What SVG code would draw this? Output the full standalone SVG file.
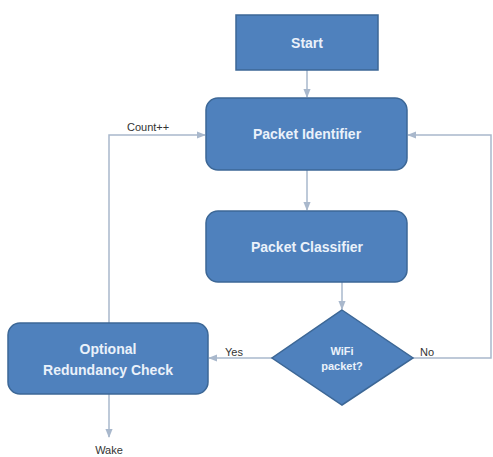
<svg xmlns="http://www.w3.org/2000/svg" width="493" height="457" viewBox="0 0 493 457">
<defs>
<style>
.box{fill:#4F81BD;stroke:#3C6796;stroke-width:1.5}
.lbl{font-family:"Liberation Sans",Arial,sans-serif;font-weight:bold;fill:#EAF1FA;text-anchor:middle}
.edge{fill:none;stroke:#A9B8CC;stroke-width:1.5}
.note{font-family:"Liberation Sans",Arial,sans-serif;font-size:11px;fill:#333}
</style>
<marker id="arr" viewBox="0 0 10 10" refX="9" refY="5" markerWidth="6" markerHeight="6" orient="auto-start-reverse">
<path d="M0,1 L10,5 L0,9 z" fill="#A9B8CC"/>
</marker>
</defs>
<rect width="493" height="457" fill="#FFFFFF"/>
<g id="connectors">
<line class="edge" x1="307" y1="70" x2="307" y2="97" marker-end="url(#arr)"/>
<line class="edge" x1="307" y1="170" x2="307" y2="210" marker-end="url(#arr)"/>
<line class="edge" x1="342" y1="282" x2="342" y2="309" marker-end="url(#arr)"/>
<line class="edge" x1="272" y1="358" x2="209" y2="358" marker-end="url(#arr)"/>
<polyline class="edge" points="413,358 491,358 491,135 408,135" marker-end="url(#arr)"/>
<polyline class="edge" points="109,323 109,135 205,135" marker-end="url(#arr)"/>
<line class="edge" x1="109" y1="394" x2="109" y2="437" marker-end="url(#arr)"/>
<text class="note" x="127" y="131">Count++</text>
<text class="note" x="225" y="356">Yes</text>
<text class="note" x="420" y="356">No</text>
<text class="note" x="109" y="454" text-anchor="middle">Wake</text>
</g>
<g id="start">
<rect class="box" x="236" y="15" width="142" height="55"/>
<text class="lbl" x="307" y="48" font-size="14">Start</text>
</g>
<g id="packet-identifier">
<rect class="box" x="206" y="98" width="201" height="72" rx="12"/>
<text class="lbl" x="307" y="139" font-size="14">Packet Identifier</text>
</g>
<g id="packet-classifier">
<rect class="box" x="206" y="211" width="201" height="71" rx="12"/>
<text class="lbl" x="307" y="252" font-size="14">Packet Classifier</text>
</g>
<g id="wifi-decision">
<polygon class="box" points="342,310 413,358 342,405 272,358"/>
<text class="lbl" x="342" y="355" font-size="11" font-weight="normal">WiFi</text>
<text class="lbl" x="342" y="370" font-size="11" font-weight="normal">packet?</text>
</g>
<g id="redundancy-check">
<rect class="box" x="8" y="323" width="200" height="71" rx="12"/>
<text class="lbl" x="108" y="354" font-size="14">Optional</text>
<text class="lbl" x="108" y="375" font-size="14">Redundancy Check</text>
</g>
</svg>
